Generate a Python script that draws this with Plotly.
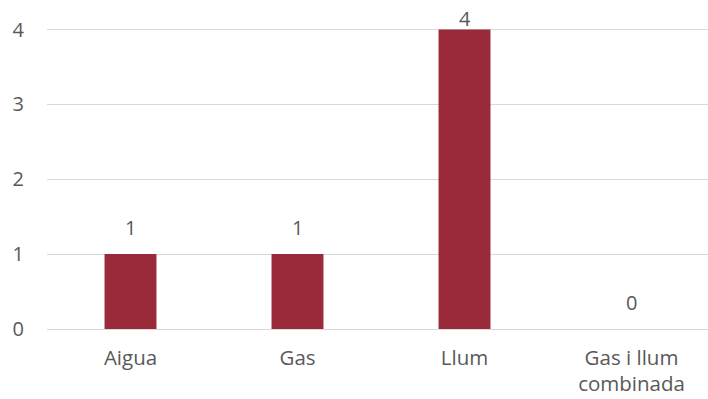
import plotly.graph_objects as go

categories = ["Aigua", "Gas", "Llum", "Gas i llum<br>combinada"]
values = [1, 1, 4, 0]
value_labels = ["1", "1", "4", "0"]
y_ticks = [0, 1, 2, 3, 4]

FONT = "Open Sans"
TXT = "#595959"
BAR = "#9A2A39"

fig = go.Figure()
fig.add_trace(go.Bar(
    x=list(range(len(categories))), y=values,
    marker=dict(color=BAR, line=dict(width=0)),
    width=0.311,
    hoverinfo="skip",
))

ymax = max(values)
annotations = []
for i, (v, t) in enumerate(zip(values, value_labels)):
    annotations.append(dict(
        x=i, y=v, xref="x", yref="y", text=t, showarrow=False,
        yanchor="bottom", yshift=(-4 if v == ymax else 11),
        font=dict(family=FONT, size=20, color=TXT),
    ))

fig.update_layout(
    width=708, height=399,
    margin=dict(l=47, r=0, t=28, b=70, autoexpand=False),
    paper_bgcolor="white", plot_bgcolor="white",
    showlegend=False,
    font=dict(family=FONT, size=20, color=TXT),
    annotations=annotations,
    xaxis=dict(
        range=[-0.5, 3.458],
        tickmode="array",
        tickvals=list(range(len(categories))),
        ticktext=categories,
        showgrid=False, zeroline=False, showline=False,
        ticks="", ticklabelstandoff=14, automargin=False,
        tickfont=dict(family=FONT, size=20.5, color=TXT),
    ),
    yaxis=dict(
        range=[0, 4.02],
        tickvals=y_ticks,
        showgrid=True, gridcolor="#D9D9D9", gridwidth=1.3,
        zeroline=True, zerolinecolor="#D9D9D9", zerolinewidth=1.3,
        showline=False, ticks="", ticklabelstandoff=22, automargin=False,
        tickfont=dict(family=FONT, size=20, color=TXT),
    ),
)

fig.write_html("out.html", config={"displayModeBar": False},
               post_script="document.body.style.margin='0';")
